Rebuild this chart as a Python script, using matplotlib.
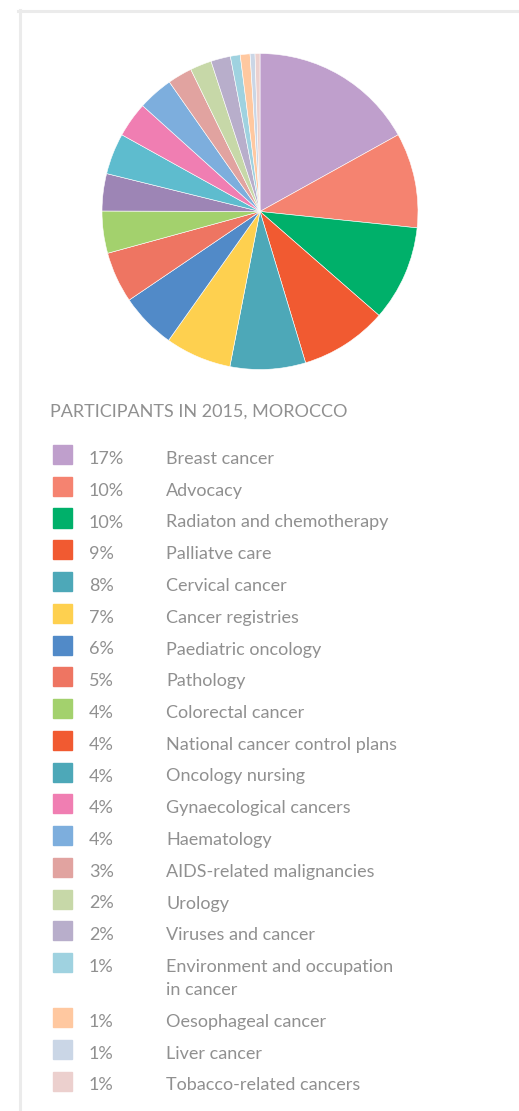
import matplotlib.pyplot as plt
from matplotlib.patches import Rectangle
from matplotlib.lines import Line2D

# Participants by topic, Morocco 2015
categories = ['Breast cancer', 'Advocacy', 'Radiaton and chemotherapy', 'Palliatve care',
              'Cervical cancer', 'Cancer registries', 'Paediatric oncology', 'Pathology',
              'Colorectal cancer', 'National cancer control plans', 'Oncology nursing',
              'Gynaecological cancers', 'Haematology', 'AIDS-related malignancies', 'Urology',
              'Viruses and cancer', 'Environment and occupation\nin cancer', 'Oesophageal cancer',
              'Liver cancer', 'Tobacco-related cancers']
# rounded percentages as printed in the legend
pct_labels = [17, 10, 10, 9, 8, 7, 6, 5, 4, 4, 4, 4, 4, 3, 2, 2, 1, 1, 1, 1]
# slice shares
shares = [16.9, 9.7, 9.75, 8.9, 7.7, 6.75, 5.7, 5.2, 4.3, 3.8, 4.2, 3.6, 3.6, 2.5,
          2.2, 2.0, 1.0, 1.0, 0.5, 0.5]
pie_colors = ['#BF9FCC', '#F58370', '#00B06A', '#F15A31', '#4DA8B8', '#FED04F', '#518AC8',
              '#EE7562', '#A3D16D', '#9D85B5', '#5EBCCE', '#F07EB2', '#7DAEDD', '#E1A3A0',
              '#C7D8A8', '#B8AECB', '#9FD2E0', '#FFC8A0', '#CAD6E6', '#ECD0CE']
legend_colors = ['#BF9FCC', '#F58370', '#00B06A', '#F15A31', '#4DA8B8', '#FED04F', '#518AC8',
                 '#EE7562', '#A3D16D', '#F15A31', '#4DA8B8', '#F07EB2', '#7DAEDD', '#E1A3A0',
                 '#C7D8A8', '#B8AECB', '#9FD2E0', '#FFC8A0', '#CAD6E6', '#ECD0CE']
title = 'PARTICIPANTS IN 2015, MOROCCO'

W, H = 519, 1111
fig = plt.figure(figsize=(W / 100, H / 100), dpi=100)
fig.patch.set_facecolor('white')


def fx(px):
    return px / W


def fy(py):
    return 1 - py / H


# frame lines
fig.add_artist(Line2D([fx(18), fx(519)], [fy(10.5), fy(10.5)], color='#EBEBEB', lw=2.2))
fig.add_artist(Line2D([fx(19.5), fx(19.5)], [fy(10), fy(1111)], color='#EBEBEB', lw=2.2))

# pie
cx, cy, r = 260, 211.5, 158
ax = fig.add_axes([fx(cx - r), fy(cy + r), 2 * r / W, 2 * r / H])
ax.pie(shares, colors=pie_colors, startangle=90, counterclock=False,
       wedgeprops=dict(edgecolor='white', linewidth=0.4))
ax.set_xlim(-1, 1)
ax.set_ylim(-1, 1)
ax.axis('off')

font = dict(family='Lato', color='#909090')
fig.text(fx(50), fy(417), title, fontsize=13, va='baseline', ha='left', **font)

# legend rows (y = square centre in pixels)
y = 454.5
for cat, val, col in zip(categories, pct_labels, legend_colors):
    fig.add_artist(Rectangle((fx(53), fy(y + 9.5)), 19 / W, 19 / H, color=col,
                             transform=fig.transFigure))
    fig.text(fx(89), fy(y + 9.5), f'{val}%', fontsize=13, va='baseline', ha='left', **font)
    lines = cat.split('\n')
    for i, line in enumerate(lines):
        fig.text(fx(166), fy(y + 9.5 + 23 * i), line, fontsize=13, va='baseline',
                 ha='left', **font)
    y += 31.75 + 23.25 * (len(lines) - 1)

fig.savefig('out.png', dpi=100, facecolor='white')
